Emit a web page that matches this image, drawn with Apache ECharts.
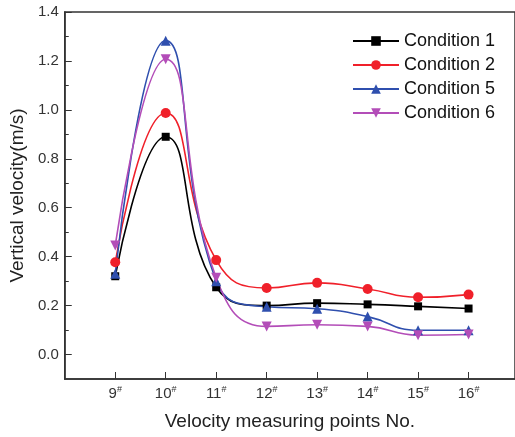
<!DOCTYPE html>
<html><head><meta charset="utf-8">
<script src="https://cdn.jsdelivr.net/npm/echarts@6/dist/echarts.min.js"></script>
<style>html,body{margin:0;padding:0;background:#fff}#c{width:515px;height:437px}</style>
</head><body><div id="c"></div>
<script>
var points = [9, 10, 11, 12, 13, 14, 15, 16];
var seriesNames = ['Condition 1', 'Condition 2', 'Condition 5', 'Condition 6'];
var cond1 = [0.32, 0.89, 0.275, 0.20, 0.21, 0.205, 0.197, 0.188];
var cond2 = [0.377, 0.987, 0.386, 0.272, 0.293, 0.268, 0.234, 0.245];
var cond5 = [0.33, 1.283, 0.30, 0.195, 0.187, 0.155, 0.099, 0.099];
var cond6 = [0.446, 1.207, 0.314, 0.115, 0.122, 0.115, 0.079, 0.082];
var yTicks = [0, 0.2, 0.4, 0.6, 0.8, 1.0, 1.2, 1.4];
var yMinor = [0.1, 0.3, 0.5, 0.7, 0.9, 1.1, 1.3];

var colors = ['#000000', '#f0202a', '#2f4fae', '#b34db8'];
var symbols = ['rect', 'circle', 'triangle', 'path://M0,0 L10,0 L5,9 Z'];
var allData = [cond1, cond2, cond5, cond6];
var FF = 'Liberation Sans, Arial';

var chart = echarts.init(document.getElementById('c'));
var axisTextColor = '#333';
var series = allData.map(function (d, i) {
  return {
    name: seriesNames[i], type: 'line', smooth: 0.5,
    xAxisIndex: 0, yAxisIndex: 0,
    data: d.map(function (v, j) { return [points[j], v]; }),
    symbol: symbols[i], symbolSize: i === 0 ? 8 : 10,
    lineStyle: { color: colors[i], width: 1.6 },
    itemStyle: { color: colors[i] }
  };
});
chart.setOption({
  animation: false,
  grid: { left: 62, top: 12, width: 453, height: 367, show: true, borderColor: '#333', borderWidth: 1.5 },
  legend: {
    orient: 'vertical', left: 347, top: 27, itemWidth: 46, itemHeight: 12, itemGap: 6,
    textStyle: { fontFamily: FF, fontSize: 18, color: '#111' },
    data: seriesNames
  },
  xAxis: [{
    type: 'value', min: 8, max: 16.92,
    name: 'Velocity measuring points No.', nameLocation: 'middle', nameGap: 33,
    nameTextStyle: { fontFamily: FF, fontSize: 19, color: '#222' },
    axisLine: { show: true, onZero: false, lineStyle: { color: '#333', width: 1.5 } },
    axisTick: { show: true, inside: true, length: 7, customValues: points, lineStyle: { color: '#333' } },
    axisLabel: {
      customValues: points, margin: 6,
      formatter: function (v) { return '{n|' + v + '}{s|#}'; },
      rich: {
        n: { fontFamily: FF, fontSize: 15, color: axisTextColor },
        s: { fontFamily: FF, fontSize: 9, color: axisTextColor, verticalAlign: 'top', padding: [0, 0, 9, 0] }
      }
    },
    splitLine: { show: false }
  }],
  yAxis: [{
    type: 'value', min: -0.1, max: 1.4,
    name: 'Vertical velocity(m/s)', nameLocation: 'middle', nameGap: 33,
    nameTextStyle: { fontFamily: FF, fontSize: 19, color: '#222' },
    axisLine: { show: true, onZero: false, lineStyle: { color: '#333', width: 1.5 } },
    axisTick: { show: true, inside: true, length: 7, customValues: yTicks, lineStyle: { color: '#333' } },
    axisLabel: {
      customValues: yTicks, margin: 6,
      formatter: function (v) { return v.toFixed(1); },
      fontFamily: FF, fontSize: 15, color: axisTextColor
    },
    splitLine: { show: false }
  }, {
    type: 'value', min: -0.1, max: 1.4, position: 'left',
    axisLine: { show: false, onZero: false },
    axisTick: { show: true, inside: true, length: 4, customValues: yMinor, lineStyle: { color: '#333' } },
    axisLabel: { show: false },
    splitLine: { show: false }
  }],
  series: series
});
</script></body></html>
